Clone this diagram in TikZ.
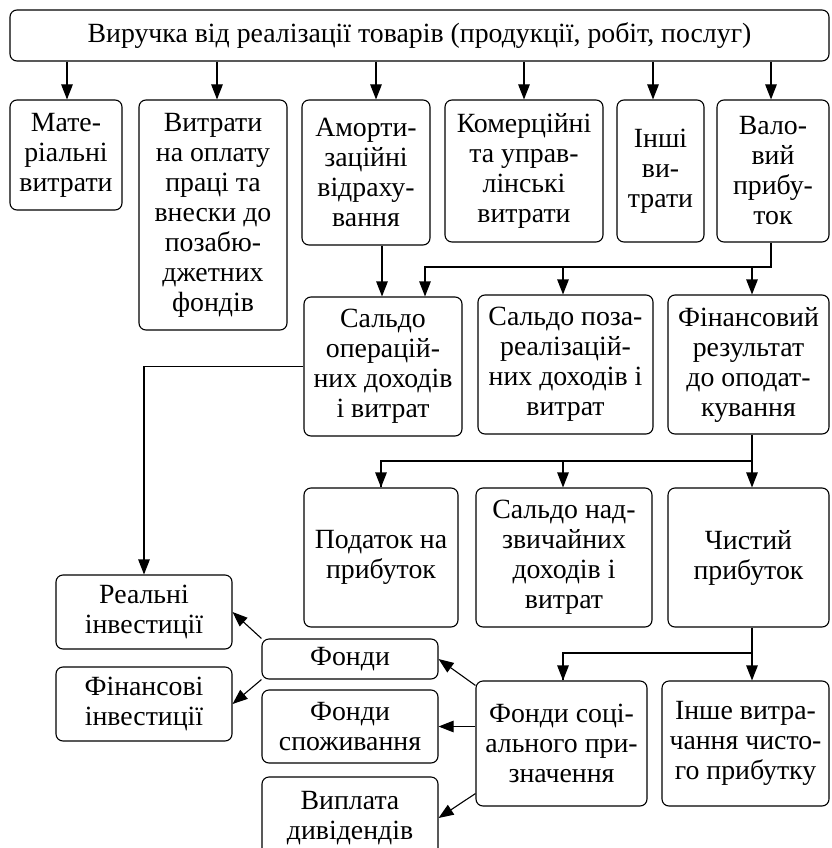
\documentclass[tikz,border=0pt]{standalone}
\usepackage{fontspec}
\setmainfont{Liberation Serif}
\usetikzlibrary{arrows.meta}
\begin{document}
\begin{tikzpicture}[x=1pt,y=1pt,
  box/.style={draw, rounded corners=7pt, line width=1.1pt, align=center, inner sep=0pt,
    font=\fontsize{27.8}{30}\selectfont},
  arr/.style={line width=1.1pt, -{Triangle[length=15pt,width=11.5pt]}},
  ln/.style={line width=1.1pt}]
\useasboundingbox (0,0) rectangle (831,-848);
% top
\node[box, minimum width=819, minimum height=51] (top) at (419.5,-35.5) {Виручка від реалізації товарів (продукції, робіт, послуг)};
% row 2
\node[box, minimum width=112, minimum height=110] (mat) at (66,-155) {Мате-\\ріальні\\витрати};
\node[box, minimum width=148, minimum height=230] (opl) at (213,-215) {Витрати\\на оплату\\праці та\\внески до\\позабю-\\джетних\\фондів};
\node[box, minimum width=128, minimum height=145] (amo) at (366,-172.5) {Аморти-\\заційні\\відраху-\\вання};
\node[box, minimum width=158, minimum height=142] (kom) at (524,-171) {Комерційні\\та управ-\\лінські\\витрати};
\node[box, minimum width=87, minimum height=142] (inshi) at (660.5,-171) {Інші\\ви-\\трати};
\node[box, minimum width=112, minimum height=142] (val) at (773,-171) {Вало-\\вий\\прибу-\\ток};
% row 3
\node[box, minimum width=158, minimum height=139] (so) at (383,-366.5) {Сальдо\\операцій-\\них доходів\\і витрат};
\node[box, minimum width=175, minimum height=139] (spr) at (565.5,-364.5) {Сальдо поза-\\реалізацій-\\них доходів і\\витрат};
\node[box, minimum width=161, minimum height=139] (fin) at (748.5,-364.5) {Фінансовий\\результат\\до оподат-\\кування};
% row 4
\node[box, minimum width=154, minimum height=139] (pod) at (381,-557.5) {Податок на\\прибуток};
\node[box, minimum width=176, minimum height=139] (snd) at (564,-557.5) {Сальдо над-\\звичайних\\доходів і\\витрат};
\node[box, minimum width=161, minimum height=139] (chp) at (748.5,-557.5) {Чистий\\прибуток};
% row 5
\node[box, minimum width=171, minimum height=125] (fsp) at (561.5,-743.5) {Фонди соці-\\ального при-\\значення};
\node[box, minimum width=167, minimum height=125] (inv) at (745.5,-743.5) {Інше витра-\\чання чисто-\\го прибутку};
% left
\node[box, minimum width=176, minimum height=74] (real) at (144,-612) {Реальні\\інвестиції};
\node[box, minimum width=176, minimum height=74] (fininv) at (144,-704) {Фінансові\\інвестиції};
\node[box, minimum width=176, minimum height=40] (fondy) at (350,-659) {Фонди};
\node[box, minimum width=176, minimum height=73] (fspoz) at (350,-726.5) {Фонди\\споживання};
\node[box, minimum width=176, minimum height=82] (vypl) at (350,-818) {Виплата\\дивідендів};
% arrows from top
\foreach \n/\xx in {mat/67, opl/217, amo/376, kom/524, inshi/653, val/771}
  \draw[arr] (top.south -| \xx,0) -- (\n.north -| \xx,0);
% amo -> so
\draw[arr] (amo.south -| 382,0) -- (so.north -| 382,0);
% val -> so, spr, fin
\coordinate (j1) at (771,-267);
\draw[arr] (val.south -| j1) -- (j1) -| (so.north -| 425,0);
\draw[arr] (j1 -| 563,0) -- (spr.north -| 563,0);
\draw[arr] (j1 -| 752,0) -- (fin.north -| 752,0);
% so -> real
\draw[arr] (so.west) -| (real.north);
% fin -> pod, snd, chp
\coordinate (j2) at (752,-461);
\draw[ln] (fin.south -| j2) -- (j2) -| (pod.north -| 381,0);
\draw[arr] (j2 -| 381,0) -- (pod.north -| 381,0);
\draw[arr] (j2 -| 563,0) -- (snd.north -| 563,0);
\draw[arr] (j2) -- (chp.north -| j2);
% chp -> fsp, inv
\coordinate (j3) at (752,-653);
\draw[ln] (chp.south -| j3) -- (j3) -| (fsp.north -| 563,0);
\draw[arr] (j3 -| 563,0) -- (fsp.north -| 563,0);
\draw[arr] (j3) -- (inv.north -| j3);
% fondy -> investments
\draw[arr] (fondy.north west) -- (real.east);
\draw[arr] (fondy.south west) -- (fininv.east);
% fsp -> funds
\draw[arr] ([yshift=-5pt]fsp.north west) -- (fondy.east);
\draw[arr] (fsp.west |- fspoz.east) -- (fspoz.east);
\draw[arr] ([yshift=13pt]fsp.south west) -- (vypl.east);
\end{tikzpicture}
\end{document}
